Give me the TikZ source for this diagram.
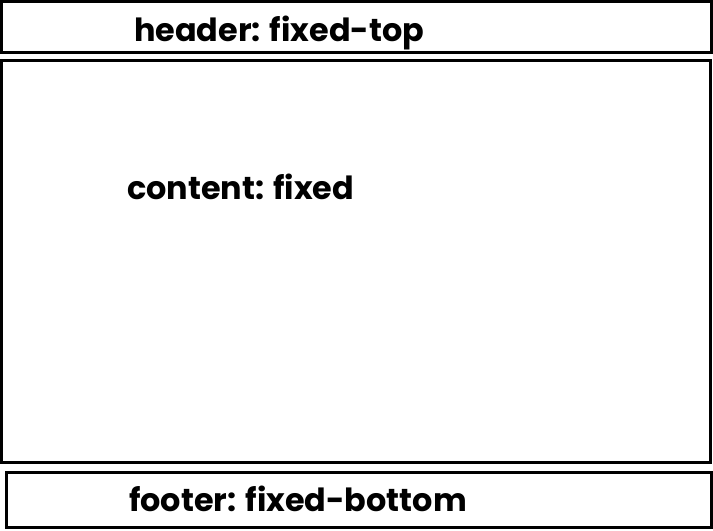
\documentclass[tikz,border=0pt]{standalone}
\usepackage{fontspec}
\setmainfont{Poppins}[BoldFont={* Bold}]
\usepackage{tikz}

\tikzset{
    panel/.style={draw=black, line width=3bp},
    paneltext/.style={anchor=base west, inner sep=0pt, font=\fontsize{32}{38}\selectfont\bfseries}
}

\begin{document}
\begin{tikzpicture}[x=1bp, y=-1bp]
    \useasboundingbox (0,0) rectangle (713,531);
    \coordinate (headerNW) at (1.5,2);
    \coordinate (headerSE) at (711.5,53);
    \coordinate (contentNW) at (1.5,60.5);
    \coordinate (contentSE) at (710.5,462.5);
    \coordinate (footerNW) at (6.5,472.5);
    \coordinate (footerSE) at (711.5,527.5);
    % Draw the panels
    \draw[panel] (headerNW) rectangle (headerSE);
    \draw[panel] (contentNW) rectangle (contentSE);
    \draw[panel] (footerNW) rectangle (footerSE);
    % Draw the panel labels
    \node[paneltext] (header) at (134,42) {header: fixed-top};
    \node[paneltext] (content) at (127,200) {content: fixed};
    \node[paneltext] (footer) at (129,511) {footer: fixed-bottom};
\end{tikzpicture}
\end{document}
